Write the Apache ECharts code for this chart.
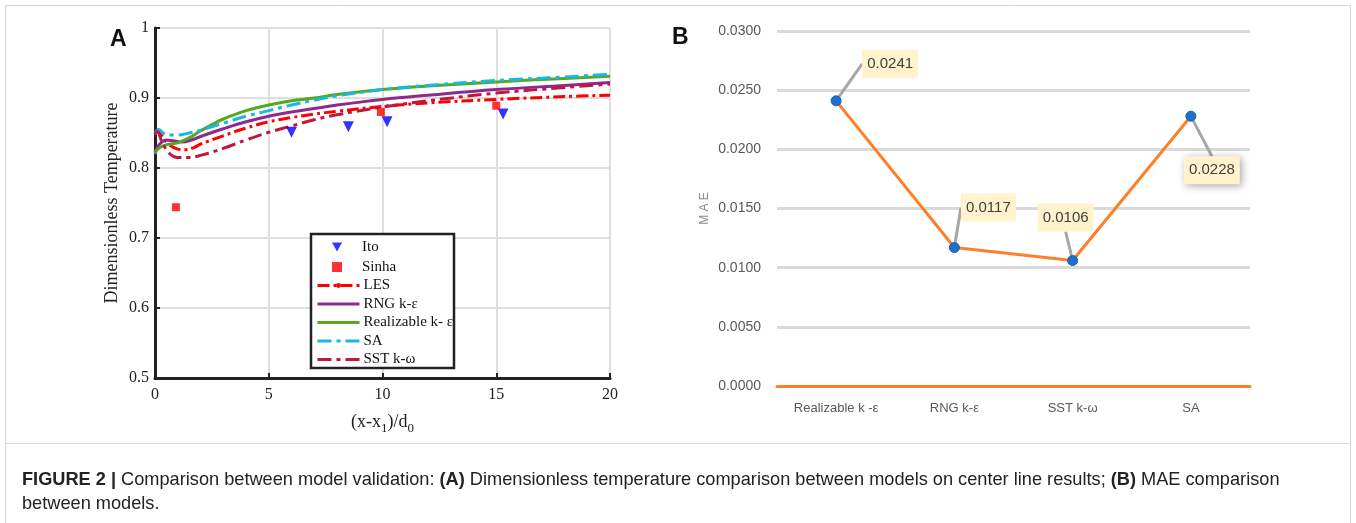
<!DOCTYPE html>
<html>
<head>
<meta charset="utf-8">
<script src="https://cdn.jsdelivr.net/npm/echarts@6/dist/echarts.min.js"></script>
<style>html,body{margin:0;padding:0;background:#fff;}#c{width:1356px;height:523px;}</style>
</head>
<body>
<div id="c"></div>
<script>
// ---------- Panel A data ----------
const lesX   = [0, 0.1, 0.3, 0.6, 1, 1.3, 1.7, 2, 3, 4, 5, 6, 7, 8, 10, 12, 15, 18, 20];
const lesY   = [0.850, 0.854, 0.846, 0.834, 0.827, 0.826, 0.829, 0.834, 0.846, 0.857, 0.866, 0.872, 0.877, 0.881, 0.888, 0.893, 0.898, 0.902, 0.904];
const rngX   = [0, 0.1, 0.3, 0.5, 0.8, 1.2, 1.6, 2, 3, 4, 5, 6, 7, 8, 10, 12, 15, 18, 20];
const rngY   = [0.822, 0.830, 0.837, 0.840, 0.839, 0.837, 0.840, 0.845, 0.856, 0.866, 0.874, 0.880, 0.885, 0.890, 0.898, 0.904, 0.912, 0.918, 0.922];
const relX   = [0, 0.1, 0.3, 0.6, 1, 1.5, 2, 2.5, 3, 4, 5, 6, 7, 8, 10, 12, 15, 18, 20];
const relY   = [0.820, 0.826, 0.831, 0.834, 0.836, 0.843, 0.853, 0.862, 0.870, 0.882, 0.890, 0.896, 0.900, 0.905, 0.912, 0.917, 0.923, 0.928, 0.931];
const saX    = [0, 0.15, 0.4, 0.7, 1, 1.5, 2, 3, 4, 5, 6, 7, 8, 10, 12, 15, 18, 20];
const saY    = [0.848, 0.855, 0.849, 0.847, 0.847, 0.850, 0.854, 0.864, 0.874, 0.882, 0.890, 0.897, 0.903, 0.912, 0.918, 0.925, 0.930, 0.934];
const sstX   = [0, 0.1, 0.3, 0.6, 1, 1.5, 2, 3, 4, 5, 6, 7, 8, 10, 12, 15, 18, 20];
const sstY   = [0.848, 0.852, 0.838, 0.822, 0.815, 0.815, 0.818, 0.828, 0.840, 0.851, 0.860, 0.869, 0.876, 0.887, 0.896, 0.907, 0.915, 0.920];
const itoX   = [6.0, 8.5, 10.2, 15.3];
const itoY   = [0.851, 0.859, 0.866, 0.877];
const sinhaX = [0.92, 9.93, 15.0];
const sinhaY = [0.744, 0.880, 0.889];

// ---------- Panel B data ----------
const modelsB = ['Realizable k -\u03b5', 'RNG k-\u03b5', 'SST k-\u03c9', 'SA'];
const maeB    = [0.0241, 0.0117, 0.0106, 0.0228];

// label offsets (layout only)
const labelOffsetsB = [[54, -37], [34, -40], [-7, -43], [21, 54]];

const zip = (xs, ys) => xs.map((x, i) => [x, ys[i]]);
const serif = 'Liberation Serif, Times New Roman, serif';
const sans = 'Liberation Sans, Arial, sans-serif';

const chart = echarts.init(document.getElementById('c'), null, {renderer: 'canvas'});

const lineA = (name, xs, ys, color, type) => ({
  name, type: 'line', xAxisIndex: 0, yAxisIndex: 0,
  data: zip(xs, ys), smooth: 0.4, symbol: 'none', showSymbol: false,
  lineStyle: {color, width: 3, type}, itemStyle: {color}, z: 3
});
const hideDot = {color: 'rgba(0,0,0,0)', borderWidth: 0, opacity: 0};

const option = {
  animation: false,
  backgroundColor: '#fff',
  grid: [
    {left: 155, top: 28, width: 455, height: 350},
    {left: 777, top: 31, width: 473, height: 355}
  ],
  xAxis: [
    {
      type: 'value', gridIndex: 0, min: 0, max: 20, interval: 5,
      name: '{a|(x-x}{s|1}{a|)/d}{s|0}', nameLocation: 'middle', nameGap: 32,
      nameTextStyle: {rich: {
        a: {fontFamily: serif, fontSize: 18, color: '#222'},
        s: {fontFamily: serif, fontSize: 13, color: '#222', padding: [12, 0, 0, 0]}
      }},
      axisLine: {show: true, onZero: false, lineStyle: {color: '#222', width: 3}},
      axisTick: {show: true, inside: true, length: 5, lineStyle: {color: '#222', width: 2}},
      axisLabel: {fontFamily: serif, fontSize: 16, color: '#222', margin: 9},
      splitLine: {show: true, lineStyle: {color: '#dedede', width: 2}}
    },
    {
      type: 'category', gridIndex: 1, data: modelsB, boundaryGap: true,
      axisLine: {show: true, lineStyle: {color: '#ff7f27', width: 3}},
      axisTick: {show: false},
      axisLabel: {fontFamily: sans, fontSize: 13, color: '#595959', margin: 16},
      splitLine: {show: false}
    }
  ],
  yAxis: [
    {
      type: 'value', gridIndex: 0, min: 0.5, max: 1, interval: 0.1,
      name: 'Dimensionless Temperature', nameLocation: 'middle', nameGap: 34,
      nameTextStyle: {fontFamily: serif, fontSize: 18, color: '#222'},
      axisLine: {show: true, onZero: false, lineStyle: {color: '#222', width: 3}},
      axisTick: {show: true, inside: true, length: 5, lineStyle: {color: '#222', width: 2}},
      axisLabel: {fontFamily: serif, fontSize: 16, color: '#222', margin: 6,
        formatter: v => String(Math.round(v * 10) / 10)},
      splitLine: {show: true, lineStyle: {color: '#dedede', width: 2}}
    },
    {
      type: 'value', gridIndex: 1, min: 0, max: 0.03, interval: 0.005,
      name: 'M A E', nameLocation: 'middle', nameGap: 66,
      nameTextStyle: {fontFamily: sans, fontSize: 12, color: '#8c8c8c'},
      axisLine: {show: false}, axisTick: {show: false},
      axisLabel: {fontFamily: sans, fontSize: 14, color: '#595959', margin: 16,
        formatter: v => v.toFixed(4)},
      splitLine: {show: true, lineStyle: {color: '#d9d9d9', width: 3}}
    }
  ],
  legend: [
    {
      data: [
        {name: 'Ito', icon: 'path://M0,0L10,0L5,9Z'},
        {name: 'Sinha', icon: 'rect'}
      ],
      orient: 'vertical', left: 332, top: 239.5, padding: 0, z: 6,
      itemGap: 5, itemWidth: 10, itemHeight: 10,
      textStyle: {fontFamily: serif, fontSize: 15, color: '#111', padding: [0, 0, 0, 15]},
      selectedMode: false
    },
    {
      data: [
        {name: 'LES', itemStyle: {borderWidth: 0}},
        {name: 'RNG k-\u03b5', itemStyle: hideDot},
        {name: 'Realizable k- \u03b5', itemStyle: hideDot},
        {name: 'SA', itemStyle: hideDot},
        {name: 'SST k-\u03c9', itemStyle: hideDot}
      ],
      orient: 'vertical', left: 316, top: 278, padding: 0, z: 6,
      itemGap: 3.5, itemWidth: 42, itemHeight: 6,
      lineStyle: {width: 3},
      textStyle: {fontFamily: serif, fontSize: 15, color: '#111', padding: [0, 0, 0, -1]},
      selectedMode: false
    }
  ],
  graphic: [
    {type: 'rect', shape: {x: 5.5, y: 5.5, width: 1345, height: 530}, style: {fill: 'none', stroke: '#d6d6d6', lineWidth: 1}, silent: true},
    {type: 'line', shape: {x1: 5.5, y1: 443.5, x2: 1350.5, y2: 443.5}, style: {stroke: '#d6d6d6', lineWidth: 1}, silent: true},
    {type: 'rect', z: 4, shape: {x: 311, y: 234, width: 143, height: 134}, style: {fill: '#fff', stroke: '#222', lineWidth: 2.5}, silent: true},
    {type: 'text', left: 110, top: 28, style: {text: 'A', font: 'bold 23px ' + sans, fill: '#111'}},
    {type: 'text', left: 672, top: 26, style: {text: 'B', font: 'bold 23px ' + sans, fill: '#111'}},
    {type: 'text', left: 22, top: 471, style: {
      text: '{b|FIGURE 2 | }{n|Comparison between model validation: }{b|(A)}{n| Dimensionless temperature comparison between models on center line results; }{b|(B)}{n| MAE comparison}',
      rich: {
        b: {font: 'bold 18.2px ' + sans, fill: '#222'},
        n: {font: '18.2px ' + sans, fill: '#222'}
      }}},
    {type: 'text', left: 22, top: 495, style: {text: 'between models.', font: '18.2px ' + sans, fill: '#222'}}
  ],
  series: [
    lineA('LES', lesX, lesY, '#ff0000', [12, 4, 3, 4]),
    lineA('RNG k-\u03b5', rngX, rngY, '#8e2a8e', 'solid'),
    lineA('Realizable k- \u03b5', relX, relY, '#55a81d', 'solid'),
    lineA('SA', saX, saY, '#16b9e6', [14, 5, 4, 5]),
    lineA('SST k-\u03c9', sstX, sstY, '#c0183c', [14, 5, 4, 5]),
    {
      name: 'Ito', type: 'scatter', xAxisIndex: 0, yAxisIndex: 0,
      data: zip(itoX, itoY), symbol: 'triangle', symbolRotate: 180, symbolSize: 11,
      itemStyle: {color: '#0000ff'}, z: 5
    },
    {
      name: 'Sinha', type: 'scatter', xAxisIndex: 0, yAxisIndex: 0,
      data: zip(sinhaX, sinhaY), symbol: 'rect', symbolSize: 8,
      itemStyle: {color: '#ff0000'}, z: 5
    },
    {
      name: 'MAE', type: 'line', xAxisIndex: 1, yAxisIndex: 1,
      data: maeB.map((v, i) => ({
        value: v,
        label: i === 3 ? {shadowBlur: 8, shadowColor: 'rgba(0,0,0,0.35)', shadowOffsetX: 2, shadowOffsetY: 2} : {}
      })),
      symbol: 'circle', symbolSize: 10,
      itemStyle: {color: '#1f70c8', borderColor: '#1560b0', borderWidth: 1},
      lineStyle: {color: '#ff7f27', width: 3},
      label: {
        show: true, position: 'inside', formatter: p => p.value.toFixed(4),
        fontFamily: sans, fontSize: 15, color: '#404040',
        backgroundColor: '#fff2cc', padding: [7, 5, 6, 5]
      },
      labelLine: {show: true, lineStyle: {color: '#a6a6a6', width: 3}},
      labelLayout: p => ({dx: labelOffsetsB[p.dataIndex][0], dy: labelOffsetsB[p.dataIndex][1]}),
      z: 4
    }
  ]
};
chart.setOption(option);
</script>
</body>
</html>
